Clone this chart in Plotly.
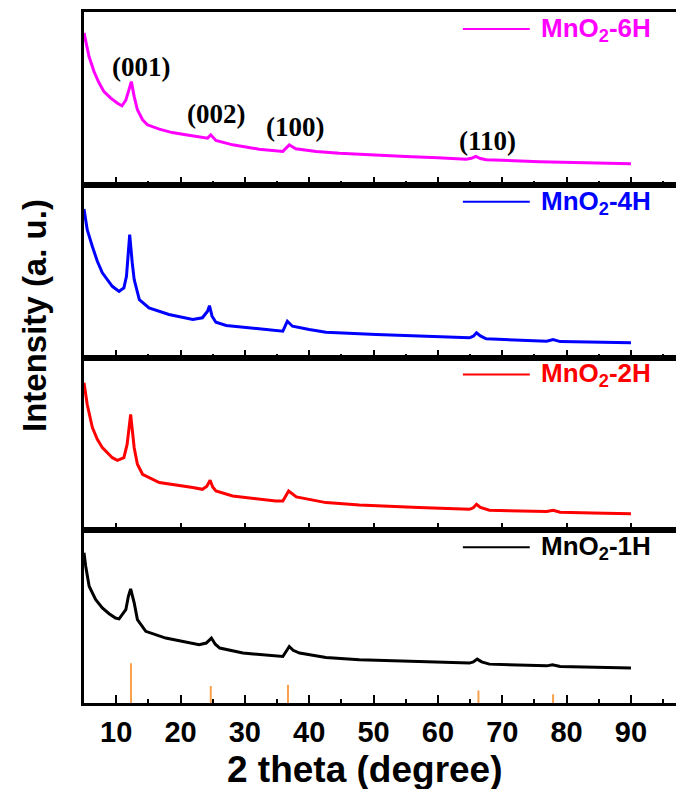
import plotly.graph_objects as go
from plotly.subplots import make_subplots

# XRD patterns (2θ in degrees, intensity in arbitrary units per panel)
two_theta_6h = [5.0, 5.36, 5.78, 6.56, 7.33, 8.1, 9.16, 10.2, 10.9, 11.5, 12.0, 12.36, 12.8, 13.3,
                14.1, 14.85, 16.7, 18.7, 20.8, 22.9, 24.2, 24.7, 25.5, 28.1, 32.2, 35.9, 36.9,
                37.9, 41.1, 44.7, 50.0, 55.0, 60.0, 64.4, 65.2, 65.9, 66.6, 67.5, 75.8, 82.0, 90.0]
intensity_6h = [87.9, 82.0, 74.2, 65.5, 59.0, 53.9, 50.1, 47.2, 45.7, 49.0, 54.9, 59.7, 51.0, 43.4,
                37.6, 34.7, 32.2, 30.2, 28.9, 27.5, 27.0, 28.9, 25.6, 23.1, 20.6, 19.3, 23.1,
                20.8, 19.3, 18.3, 17.2, 16.4, 15.6, 14.8, 15.3, 16.4, 15.2, 14.5, 13.3, 12.7, 12.1]

two_theta_4h = [5.0, 5.5, 6.3, 7.07, 7.85, 8.6, 9.4, 10.45, 11.2, 11.6, 12.1, 12.5, 12.8, 13.6,
                15.1, 18.2, 21.9, 23.4, 24.2, 24.5, 24.9, 25.5, 27.1, 32.2, 35.9, 36.6, 37.4,
                40.0, 42.6, 50.4, 57.0, 64.9, 65.5, 66.0, 66.6, 67.5, 76.9, 77.9, 79.0, 84.0, 90.0]
intensity_4h = [86.0, 74.0, 64.3, 55.7, 49.0, 45.1, 41.2, 38.3, 40.3, 47.0, 71.1, 54.7, 45.1, 33.5,
                28.7, 24.9, 22.0, 23.0, 26.8, 30.0, 23.9, 20.4, 18.5, 16.6, 15.2, 21.0, 18.1,
                16.2, 14.6, 13.3, 12.3, 11.4, 12.3, 14.3, 12.5, 10.8, 9.4, 10.4, 9.2, 8.9, 8.5]

two_theta_2h = [5.0, 5.5, 6.3, 7.07, 7.85, 9.4, 10.2, 11.2, 11.7, 12.25, 12.8, 13.3, 14.1, 16.7,
                21.9, 23.4, 24.1, 24.6, 25.0, 25.5, 28.1, 34.8, 35.9, 36.8, 38.0, 42.6, 47.8,
                50.9, 57.0, 64.9, 65.5, 66.0, 66.6, 68.0, 76.9, 77.9, 79.0, 84.0, 90.0]
intensity_2h = [85.4, 72.8, 59.4, 52.6, 47.8, 42.0, 40.5, 42.0, 49.7, 67.0, 47.8, 38.2, 32.4, 27.6,
                24.7, 23.7, 25.5, 28.9, 25.0, 22.7, 19.8, 16.9, 16.9, 22.7, 19.3, 16.0, 14.6,
                14.0, 13.1, 12.1, 13.0, 15.0, 13.2, 11.6, 10.8, 11.6, 10.4, 10.0, 9.6]

two_theta_1h = [5.0, 5.26, 5.8, 6.8, 7.85, 8.9, 9.9, 10.45, 11.5, 11.9, 12.25, 12.8, 13.3, 14.6,
                17.7, 22.9, 24.0, 24.8, 25.4, 26.1, 29.7, 35.9, 36.9, 37.5, 38.5, 42.6, 47.8,
                50.9, 57.0, 64.9, 65.5, 66.1, 66.8, 68.0, 76.9, 77.8, 79.0, 84.0, 90.0]
intensity_1h = [87.0, 79.3, 67.6, 59.9, 55.0, 51.7, 49.2, 48.7, 54.0, 61.8, 66.1, 58.0, 48.3, 41.5,
                37.6, 33.7, 34.7, 37.6, 34.0, 31.8, 28.9, 26.9, 32.7, 30.5, 28.9, 26.4, 25.0,
                24.6, 23.8, 23.1, 23.8, 25.4, 23.8, 22.5, 21.5, 22.1, 21.1, 20.7, 20.2]

# Reference pattern sticks
ref_positions = [12.3, 24.7, 36.7, 66.3, 77.9]
ref_heights = [23.0, 9.8, 10.5, 7.2, 5.0]

# Miller indices labelled on the top pattern
hkl_labels = ["(001)", "(002)", "(100)", "(110)"]
hkl_x = [13.8, 25.5, 37.8, 67.7]
hkl_y = [68.2, 41.0, 33.5, 25.2]

series = [
    ("MnO<sub>2</sub>-6H", two_theta_6h, intensity_6h, "#FF00FF"),
    ("MnO<sub>2</sub>-4H", two_theta_4h, intensity_4h, "#0000FF"),
    ("MnO<sub>2</sub>-2H", two_theta_2h, intensity_2h, "#FF0000"),
    ("MnO<sub>2</sub>-1H", two_theta_1h, intensity_1h, "#000000"),
]

major_ticks = [10, 20, 30, 40, 50, 60, 70, 80, 90]
minor_ticks = [15, 25, 35, 45, 55, 65, 75, 85, 95]

SANS = "Liberation Sans, Arial, sans-serif"
SERIF = "Liberation Serif, Times New Roman, serif"

fig = make_subplots(rows=4, cols=1, shared_xaxes=True, vertical_spacing=0)

for i, (name, xs, ys, color) in enumerate(series, start=1):
    fig.add_trace(go.Scatter(x=xs, y=ys, mode="lines", name=name,
                             line=dict(color=color, width=3), showlegend=False),
                  row=i, col=1)
    xd = "x domain" if i == 1 else f"x{i} domain"
    yd = "y domain" if i == 1 else f"y{i} domain"
    fig.add_shape(type="line", xref=xd, yref=yd, x0=0.640, x1=0.753, y0=0.902, y1=0.902,
                  line=dict(color=color, width=2))
    fig.add_annotation(xref=xd, yref=yd, x=0.768, y=0.900, xanchor="left", yanchor="middle",
                       text=f"<b>{name}</b>", showarrow=False,
                       font=dict(family=SANS, size=26, color=color))

# reference sticks as vertical segments
stick_x, stick_y = [], []
for p, h in zip(ref_positions, ref_heights):
    stick_x += [p, p, None]
    stick_y += [0, h, None]
fig.add_trace(go.Scatter(x=stick_x, y=stick_y, mode="lines", showlegend=False,
                         line=dict(color="#F9A04B", width=2)), row=4, col=1)

for t, xv, yv in zip(hkl_labels, hkl_x, hkl_y):
    fig.add_annotation(xref="x", yref="y", x=xv, y=yv, text=f"<b>{t}</b>", showarrow=False,
                       font=dict(family=SERIF, size=27, color="black"))

fig.update_xaxes(range=[5, 97], showline=True, linecolor="black", linewidth=2.5, mirror=True,
                 ticks="inside", tickvals=major_ticks, ticklen=8, tickwidth=2, tickcolor="black",
                 minor=dict(tickvals=minor_ticks, ticks="inside", ticklen=4, tickwidth=2,
                            tickcolor="black"),
                 showgrid=False, zeroline=False)
fig.update_xaxes(showticklabels=True, tickfont=dict(family=SANS, size=29, color="black", weight="bold"),
                 ticklabelstandoff=1, row=4, col=1)
fig.update_yaxes(range=[0, 100], showline=True, linecolor="black", linewidth=3, mirror=False,
                 showticklabels=False, ticks="", showgrid=False, zeroline=False)

fig.add_annotation(xref="paper", yref="paper", x=0.4747, y=-0.096, xanchor="center", yanchor="middle",
                   text="<b>2 theta (degree)</b>", showarrow=False,
                   font=dict(family=SANS, size=37, color="black"))
fig.add_annotation(xref="paper", yref="paper", x=-0.0845, y=0.5615, xanchor="center", yanchor="middle",
                   textangle=-90, text="<b>Intensity (a. u.)</b>", showarrow=False,
                   font=dict(family=SANS, size=33, color="black"))

fig.update_layout(width=676, height=789, margin=dict(l=84, r=0, t=12, b=86),
                  paper_bgcolor="white", plot_bgcolor="white")

fig.write_html("out.html")
